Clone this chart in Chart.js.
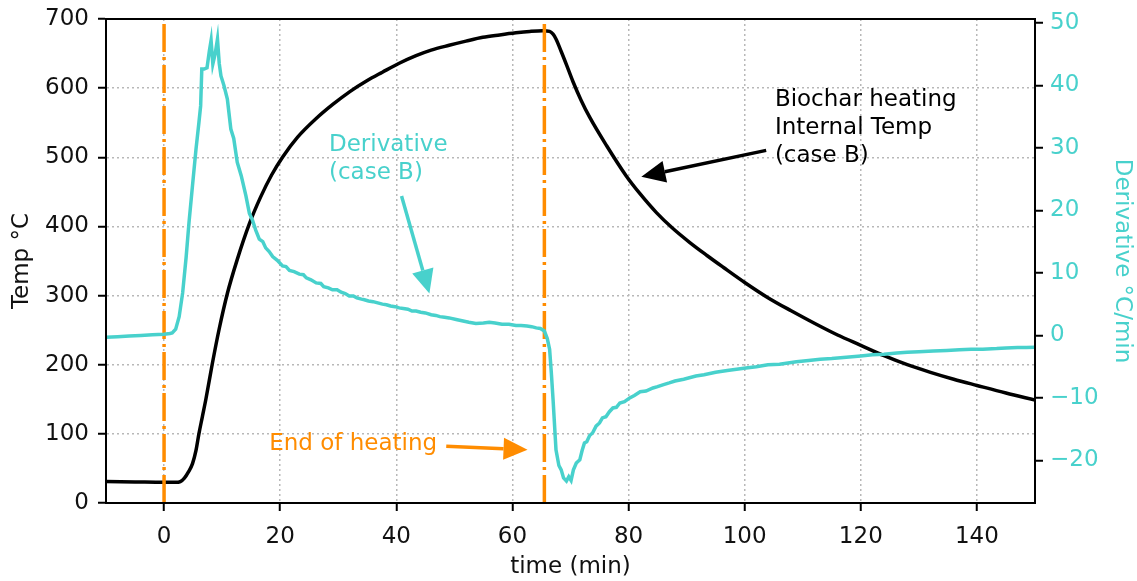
<!DOCTYPE html>
<html>
<head>
<meta charset="utf-8">
<script src="https://cdn.jsdelivr.net/npm/chart.js@4.4.1/dist/chart.umd.min.js"></script>
<style>
  html, body { margin: 0; padding: 0; background: #fff; }
  #wrap { width: 1137px; height: 581px; }
</style>
</head>
<body>
<div id="wrap"><canvas id="chart" width="1137" height="581"></canvas></div>
<script>
// data
const tempTime = [-10, -5, 0, 2, 2.8, 3.5, 4.2, 4.9, 5.5, 6.0, 6.6, 7.2, 8.3, 9.5, 10.9, 12.6, 14.7, 16.6, 18.5, 20.4,
  23, 26.2, 29, 32, 35, 37.6, 40.5, 43.4, 46, 49.1, 52, 54.9, 57.8, 60.6, 63, 65.2, 66.4, 67, 67.5, 68.4, 69.3,
  70.4, 71.8, 73.3, 76.2, 79.6, 82, 84.8, 87.5, 90.5, 93.5, 96.3, 100, 104, 108, 112, 116, 120, 124, 128,
  132, 136, 140, 145, 150]
const tempVals = [31, 30.5, 30, 30, 31, 36, 45, 57, 76, 100, 125, 150, 201, 252, 303, 352, 404, 442, 474, 500,
  529, 556, 576, 595, 611, 623, 636, 647, 655, 662, 668, 673.5, 677, 680, 682, 683, 682, 678, 671, 653, 634,
  610, 583, 558, 517, 473, 447, 420, 398, 377, 358, 341, 319, 297, 278, 260, 243, 228, 213, 200,
  189, 179, 170, 159, 149]

const derivTime = [-10, -8, -6, -4, -2, 0, 1, 1.4, 2.0, 2.6, 3.2, 3.8, 4.3, 4.9, 5.5, 6.0, 6.3, 6.5, 6.9, 7.4,
  7.8, 8.1, 8.4, 8.8, 9.2, 9.5, 9.8, 10.3, 10.9, 11.5, 12.0, 12.6, 13.3, 14.1, 14.7, 15.2, 15.8, 16.4, 17.0, 17.5,
  18.1, 18.7, 19.5, 20.4, 21.0, 21.6, 22.4, 23.3, 24.0, 24.5, 25.3, 26.2, 27.0, 27.5, 28.3, 29, 29.8, 30.5, 31.2,
  31.9, 32.6, 33.2, 34.0, 34.5, 35.2, 36, 36.8, 37.6, 38.3, 39, 39.8, 40.5, 41.2, 42, 42.7, 43.4, 44.2, 45, 46,
  46.8, 47.5, 48.3, 49.1, 50.5, 51.5, 52.5, 53.7, 55, 56, 57, 58.2, 59.4, 60.6, 61.5, 62.5, 63.3, 64.1, 64.8,
  65.5, 66.0, 66.4, 66.7, 67.0, 67.5, 68.0, 68.4, 68.8, 69.3, 69.7, 70.1, 70.5, 71.0, 71.6, 72.0, 72.4, 72.8,
  73.3, 73.8, 74.4, 75.0, 75.5, 76.1, 76.7, 77.3, 77.9, 78.5, 79.3, 80.2, 81.0, 82, 83, 84.2, 85.0, 85.9, 87, 88,
  89.5, 91.6, 93, 95, 97, 100.2, 102, 104, 106, 108.9, 111, 113, 115, 117.5, 120, 122, 124, 126.2, 128, 130,
  132.5, 134.8, 137, 139, 141, 143.4, 145, 147, 148.5, 150]
const derivVals = [-0.3, -0.2, -0.1, 0, 0.1, 0.2, 0.3, 0.4, 1.0, 3.0, 6.8, 12.5, 18.1, 24, 29.8, 34, 36.7, 42.6, 42.6, 42.8,
  45.5, 47.2, 43.4, 45, 47.4, 43.5, 41.5, 40, 37.8, 33, 31.5, 27.7, 25.5, 22.3, 19.5, 18.5, 16.8, 15.4, 15.0, 14.0,
  13.4, 12.6, 12.0, 11.1, 11.0, 10.4, 10.2, 9.8, 9.7, 9.2, 8.9, 8.4, 8.3, 7.8, 7.6, 7.3, 7.3, 6.9, 6.7,
  6.3, 6.3, 6.0, 5.8, 5.7, 5.5, 5.4, 5.2, 5.0, 4.9, 4.7, 4.6, 4.4, 4.3, 4.2, 3.9, 3.9, 3.7, 3.6, 3.3,
  3.2, 3.0, 2.9, 2.8, 2.5, 2.3, 2.1, 1.9, 2.0, 2.1, 2.0, 1.8, 1.8, 1.6, 1.6, 1.5, 1.4, 1.2, 1.1,
  0.7, -0.5, -2.2, -6, -10.3, -18.3, -20.8, -21.5, -22.8, -23.3, -22.6, -23.2, -21.5, -20.4, -19.9, -18.4, -17.2, -17.0,
  -16.0, -15.6, -14.5, -14.0, -13.2, -13.0, -12.2, -11.6, -11.5, -10.8, -10.6, -10.0, -9.6, -9.0, -8.9, -8.4, -8.2, -7.9, -7.6, -7.3,
  -7.0, -6.5, -6.3, -5.9, -5.6, -5.2, -5.0, -4.7, -4.6, -4.2, -4.0, -3.8, -3.7, -3.5, -3.3, -3.1, -3.0, -2.8, -2.7, -2.6,
  -2.5, -2.4, -2.3, -2.2, -2.2, -2.1, -2.0, -1.95, -1.95, -1.9]

const heatingMarks = [0, 65.5]

const xTicks = [0, 20, 40, 60, 80, 100, 120, 140]
const leftTicks = [0, 100, 200, 300, 400, 500, 600, 700]
const rightTicks = [-20, -10, 0, 10, 20, 30, 40, 50]

const CYAN = '#48d1cc'
const ORANGE = '#ff8c00'
const FONT = "'DejaVu Sans', sans-serif"
const FSIZE = 23

// annotation text + arrows, in (time, temp) coordinates
const notes = [
  { lines: ['Derivative', '(case B)'], x: 28.4, y: 518, color: CYAN },
  { lines: ['Biochar heating', 'Internal Temp', '(case B)'], x: 105.2, y: 583, color: '#000' },
  { lines: ['End of heating'], x: 18.1, y: 85, color: ORANGE }
]
const arrows = [
  { from: [40.9, 444], to: [45.7, 303], color: CYAN },
  { from: [103.7, 510], to: [82.2, 472], color: '#000' },
  { from: [48.6, 82], to: [62.6, 77], color: ORANGE }
]

function pairs(xs, ys) {
  var out = []
  for (var i = 0; i < xs.length; i++) out.push({ x: xs[i], y: ys[i] })
  return out
}

function fmt(v) {
  return v < 0 ? '\u2212' + Math.abs(v) : '' + v
}

function fixTicks(list) {
  return function(scale) {
    scale.ticks = list.map(function(v) { return { value: v } })
  }
}

var datasets = [
  {
    label: 'derivative',
    data: pairs(derivTime, derivVals),
    yAxisID: 'y1',
    borderColor: CYAN,
    borderWidth: 3.5,
    pointRadius: 0,
    tension: 0,
    order: 0
  },
  {
    label: 'temp',
    data: pairs(tempTime, tempVals),
    yAxisID: 'y',
    borderColor: '#000',
    borderWidth: 3.5,
    pointRadius: 0,
    cubicInterpolationMode: 'monotone',
    order: 2
  }
]
for (var i = 0; i < heatingMarks.length; i++) {
  datasets.push({
    label: 'heat' + i,
    data: [{ x: heatingMarks[i], y: 0 }, { x: heatingMarks[i], y: 700 }],
    yAxisID: 'y',
    borderColor: ORANGE,
    borderWidth: 3.5,
    borderDash: [28, 5, 3, 5],
    borderCapStyle: 'butt',
    pointRadius: 0,
    order: 1
  })
}

const frameAndNotes = {
  id: 'frameAndNotes',
  afterDatasetsDraw(chart) {
    const ctx = chart.ctx
    const a = chart.chartArea
    const sx = chart.scales.x
    const sy = chart.scales.y

    ctx.save()
    ctx.strokeStyle = '#000'
    ctx.lineWidth = 2
    ctx.strokeRect(a.left, a.top, a.right - a.left, a.bottom - a.top)

    ctx.font = FSIZE + 'px ' + FONT
    ctx.textBaseline = 'middle'
    ctx.textAlign = 'left'
    notes.forEach(function(n) {
      ctx.fillStyle = n.color
      var px = sx.getPixelForValue(n.x)
      var py = sy.getPixelForValue(n.y)
      n.lines.forEach(function(t, k) { ctx.fillText(t, px, py + k * 28) })
    })

    arrows.forEach(function(ar) {
      var x1 = sx.getPixelForValue(ar.from[0]), y1 = sy.getPixelForValue(ar.from[1])
      var x2 = sx.getPixelForValue(ar.to[0]), y2 = sy.getPixelForValue(ar.to[1])
      var ang = Math.atan2(y2 - y1, x2 - x1)
      var headLen = 24, headW = 11
      var bx = x2 - headLen * Math.cos(ang), by = y2 - headLen * Math.sin(ang)
      ctx.strokeStyle = ar.color
      ctx.fillStyle = ar.color
      ctx.lineWidth = 3.5
      ctx.beginPath()
      ctx.moveTo(x1, y1)
      ctx.lineTo(bx, by)
      ctx.stroke()
      ctx.beginPath()
      ctx.moveTo(x2, y2)
      ctx.lineTo(bx + headW * Math.sin(ang), by - headW * Math.cos(ang))
      ctx.lineTo(bx - headW * Math.sin(ang), by + headW * Math.cos(ang))
      ctx.closePath()
      ctx.fill()
    })
    ctx.restore()
  }
}

const tickFont = { family: FONT, size: FSIZE }
const gridStyle = {
  color: '#b8b8b8',
  lineWidth: 1.5,
  tickColor: '#000',
  tickWidth: 2,
  tickLength: 8,
  tickBorderDash: []
}

// fixed box sizes so the plot area lands where it does in the picture
function boxWidth(w) {
  return function(s) { s.width = w; s.paddingTop = 0; s.paddingBottom = 0 }
}

const chart = new Chart(document.getElementById('chart'), {
  type: 'line',
  data: { datasets: datasets },
  plugins: [frameAndNotes],
  options: {
    responsive: false,
    animation: false,
    events: [],
    layout: { padding: { top: 19, left: 0, right: 0, bottom: 0 } },
    plugins: { legend: { display: false }, tooltip: { enabled: false } },
    scales: {
      x: {
        type: 'linear',
        min: -10,
        max: 150,
        afterBuildTicks: fixTicks(xTicks),
        afterFit: function(s) { s.height = 78; s.paddingLeft = 0; s.paddingRight = 0 },
        grid: gridStyle,
        border: { color: '#000', width: 2, dash: [2, 3] },
        ticks: { font: tickFont, color: '#111', padding: 12, maxRotation: 0, callback: fmt },
        title: { display: true, text: 'time (min)', font: tickFont, color: '#111', padding: { top: 0, bottom: 0 } }
      },
      y: {
        type: 'linear',
        position: 'left',
        min: 0,
        max: 700,
        afterBuildTicks: fixTicks(leftTicks),
        afterFit: boxWidth(106),
        grid: gridStyle,
        border: { color: '#000', width: 2, dash: [2, 3] },
        ticks: { font: tickFont, color: '#111', padding: 9, callback: fmt },
        title: { display: true, text: 'Temp \u00b0C', font: tickFont, color: '#111', padding: { top: 8, bottom: 0 } }
      },
      y1: {
        type: 'linear',
        position: 'right',
        min: -26.8,
        max: 50.6,
        afterBuildTicks: fixTicks(rightTicks),
        afterFit: boxWidth(102),
        grid: Object.assign({}, gridStyle, { drawOnChartArea: false }),
        border: { color: '#000', width: 2 },
        ticks: { font: tickFont, color: CYAN, padding: 7, callback: fmt },
        title: { display: true, text: 'Derivative \u00b0C/min', font: tickFont, color: CYAN, padding: { top: 1, bottom: 0 } }
      }
    }
  }
});
</script>
</body>
</html>
